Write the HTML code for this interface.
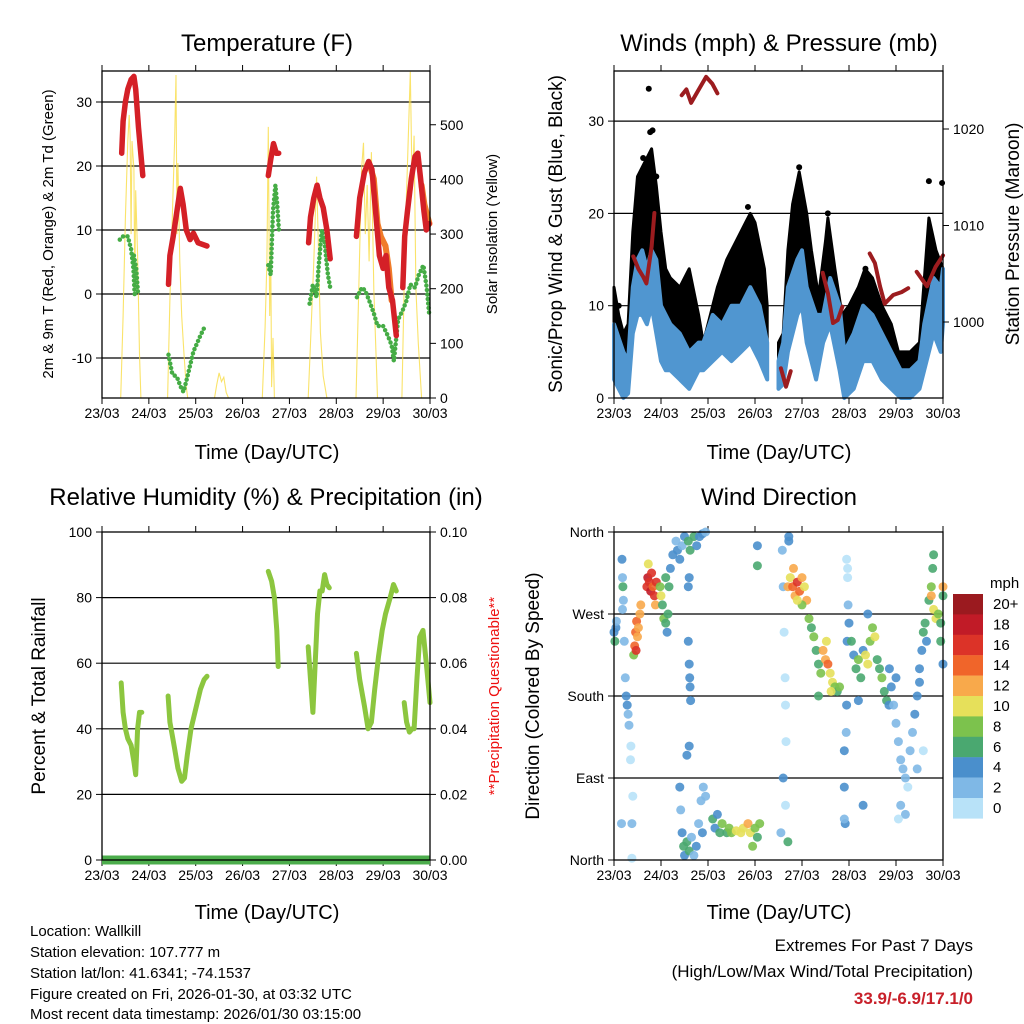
<!DOCTYPE html>
<html><head><meta charset="utf-8">
<style>
html,body{margin:0;padding:0;background:#fff;}
svg{display:block;font-family:"Liberation Sans",sans-serif;}
</style></head>
<body>
<svg id="fig" width="1024" height="1024" viewBox="0 0 1024 1024" xmlns="http://www.w3.org/2000/svg">
<g font-size="24" text-anchor="middle" fill="#000">
<text x="267" y="51">Temperature (F)</text>
<text x="779" y="51">Winds (mph) &amp; Pressure (mb)</text>
<text x="266" y="505">Relative Humidity (%) &amp; Precipitation (in)</text>
<text x="779" y="505">Wind Direction</text>
</g>
<g font-size="20" text-anchor="middle">
<text x="267" y="459">Time (Day/UTC)</text>
<text x="779" y="459">Time (Day/UTC)</text>
<text x="267" y="919">Time (Day/UTC)</text>
<text x="779" y="919">Time (Day/UTC)</text>
<text transform="translate(53,234) rotate(-90)" font-size="15">2m &amp; 9m T (Red, Orange) &amp; 2m Td (Green)</text>
<text transform="translate(497,234) rotate(-90)" font-size="15">Solar Insolation (Yellow)</text>
<text transform="translate(562,234) rotate(-90)" font-size="19">Sonic/Prop Wind &amp; Gust (Blue, Black)</text>
<text transform="translate(1019,234) rotate(-90)" font-size="19">Station Pressure (Maroon)</text>
<text transform="translate(45,696) rotate(-90)" font-size="19">Percent &amp; Total Rainfall</text>
<text transform="translate(499,696) rotate(-90)" font-size="15" fill="#ee1111">**Precipitation Questionable**</text>
<text transform="translate(539,696) rotate(-90)" font-size="19">Direction (Colored By Speed)</text>
</g>
<g font-size="15">
<text x="30" y="936">Location: Wallkill</text>
<text x="30" y="957">Station elevation: 107.777 m</text>
<text x="30" y="978">Station lat/lon: 41.6341; -74.1537</text>
<text x="30" y="999">Figure created on Fri, 2026-01-30, at 03:32 UTC</text>
<text x="30" y="1019">Most recent data timestamp: 2026/01/30 03:15:00</text>
</g>
<g text-anchor="end" font-size="17">
<text x="973" y="951">Extremes For Past 7 Days</text>
<text x="973" y="977">(High/Low/Max Wind/Total Precipitation)</text>
<text x="973" y="1004" fill="#c8202a" font-weight="bold">33.9/-6.9/17.1/0</text>
</g>
<g id="plots"></g>
</svg>
<script>
// ---------- data ----------
const dayLabels = ["23/03","24/03","25/03","26/03","27/03","28/03","29/03","30/03"];
const tempTicks = [-10,0,10,20,30];
const solarTicks = [0,100,200,300,400,500];
const windTicks = [0,10,20,30];
const presTicks = [1000,1010,1020];
const rhTicks = [0,20,40,60,80,100];
const precipTicks = ["0.00","0.02","0.04","0.06","0.08","0.10"];
const dirTicks = ["North","East","South","West","North"];
const speedLabels = ["20+","18","16","14","12","10","8","6","4","2","0"];

const tempRed = [
 [[0.42,22],[0.45,27],[0.5,30],[0.55,32],[0.62,33.5],[0.68,34],[0.72,32],[0.78,26],[0.87,18.5]],
 [[1.42,1.5],[1.45,6],[1.52,9],[1.6,13],[1.67,16.5],[1.73,14],[1.8,10],[1.88,8.5],[1.95,9.5],[2.05,8],[2.24,7.5]],
 [[3.55,18.5],[3.6,21],[3.66,23.5],[3.72,22],[3.77,22]],
 [[4.41,8],[4.45,12],[4.52,15],[4.59,17],[4.65,15],[4.72,13.5],[4.8,10],[4.87,5.5]],
 [[5.43,9],[5.5,15],[5.6,19],[5.69,20.7],[5.76,19.5],[5.85,12],[5.92,6],[6.0,4],[6.06,6],[6.12,1],[6.2,-1],[6.28,-6.5]],
 [[6.42,1],[6.46,9],[6.52,13],[6.6,18],[6.68,21.5],[6.74,22],[6.8,18],[6.87,13],[6.92,10],[6.98,11]]
];
const tempOrange = [
 [[5.72,20],[5.8,18],[5.88,11],[5.95,9],[6.05,7.5],[6.12,4],[6.18,-1]],
 [[6.82,17],[6.88,14],[6.95,12],[6.99,11]]
];
const dewGreen = [
 [[0.38,8.5],[0.45,9],[0.55,9],[0.62,7],[0.67,4],[0.7,-0.5]],
 [[0.68,6],[0.73,4],[0.77,0]],
 [[1.42,-9.5],[1.5,-12.5],[1.6,-13],[1.68,-14.5],[1.74,-15.3],[1.82,-13],[1.95,-9],[2.1,-6.5],[2.2,-5]],
 [[3.55,4.5],[3.6,3],[3.65,13],[3.7,17],[3.74,14],[3.78,9.5]],
 [[4.43,-1.5],[4.5,1.5],[4.58,-0.5],[4.62,4],[4.69,10],[4.75,8],[4.82,3],[4.87,1]],
 [[5.44,-0.5],[5.55,1],[5.62,0.5],[5.7,-1],[5.8,-3],[5.88,-5],[6.0,-5],[6.1,-6.5],[6.18,-8],[6.23,-10.5],[6.32,-4],[6.42,-2.5],[6.5,-1],[6.58,1.5],[6.68,1],[6.76,3],[6.86,4.5],[6.93,1],[6.98,-3]]
];
const solar = [
 [[0.40,0],[0.45,150],[0.5,330],[0.55,470],[0.58,518],[0.6,480],[0.62,300],[0.64,470],[0.68,420],[0.7,200],[0.72,380],[0.76,260],[0.8,80],[0.83,0]],
 [[1.40,0],[1.45,180],[1.5,330],[1.55,470],[1.58,591],[1.6,300],[1.62,430],[1.66,250],[1.7,150],[1.75,80],[1.8,20],[1.83,0]],
 [[2.4,0],[2.45,25],[2.5,46],[2.55,30],[2.6,38],[2.65,10],[2.7,0]],
 [[3.42,0],[3.48,130],[3.52,250],[3.55,496],[3.58,150],[3.6,280],[3.62,20],[3.65,110],[3.68,0]],
 [[4.4,0],[4.45,100],[4.52,250],[4.58,405],[4.62,270],[4.66,120],[4.72,40],[4.8,0]],
 [[5.42,0],[5.48,200],[5.54,420],[5.58,467],[5.62,300],[5.66,390],[5.7,250],[5.75,450],[5.8,200],[5.88,0]],
 [[6.4,0],[6.47,300],[6.52,430],[6.58,597],[6.62,380],[6.66,480],[6.7,200],[6.75,100],[6.82,0]]
];
const gustTimes = [0,0.1,0.2,0.3,0.4,0.5,0.6,0.7,0.8,0.9,1.0,1.1,1.2,1.4,1.6,1.8,1.9,2.0,2.2,2.4,2.6,2.8,2.9,3.0,3.2,3.26];
const gustUpper = [12,9,7,8,18,24,25,26,27,23,18,14,13,12,14,9,6,8,12,15,17,19,20,19,14,10];
const gustTimes2 = [3.5,3.6,3.7,3.8,3.94,4.1,4.2,4.35,4.5,4.55,4.7,4.85,5.0,5.2,5.34,5.5,5.7,5.9,6.05,6.3,6.5,6.62,6.7,6.85,7.0];
const gustUpper2 = [6,7,16,21,24.5,20,16,11,17,19.5,14,9,10,12,14,13,10,8,5,5,6,14,19.5,16,14];
const windTimes = [0,0.2,0.3,0.4,0.5,0.6,0.7,0.8,0.9,1.0,1.1,1.2,1.4,1.6,1.8,1.9,2.1,2.3,2.5,2.7,2.9,3.1,3.26];
const windUpper = [8,5,4,12,15,16,14,16,15,10,9,8,7,5,6,6,9,8,10,10,12,10,6];
const windLower = [2,0,0.5,7,9,9,8,10,7,4,3,3,2,1,3,3,4,5,4,5,6,4,2];
const windTimes2 = [3.5,3.6,3.7,3.9,4.0,4.1,4.3,4.45,4.6,4.8,4.9,5.1,5.3,5.5,5.7,5.9,6.1,6.3,6.5,6.6,6.8,6.95,7.0];
const windUpper2 = [4,6,12,15,16,12,9,9,13,10,5,7,10,9,7,5,3,3,4,8,13,12,14];
const windLower2 = [1,1.5,5,9,10,6,2,6,8,3,0,1,4,4,2,1,0,0,1,3,7,5,8];
const gustOutliers = [[0.74,33.5],[6.7,23.5],[6.98,23.3],[0.77,28.8],[3.94,25],[0.5,22],[0.62,26],[0.9,24],[2.85,20.7],[4.55,20],[0.1,10],[5.35,14],[0.82,29]];
const pressure = [
 [[0.41,1006.8],[0.52,1005.5],[0.62,1004.7],[0.69,1004],[0.8,1007.8],[0.86,1011.3]],
 [[1.44,1023.5],[1.54,1024.1],[1.64,1022.7],[1.78,1023.9],[1.96,1025.4],[2.09,1024.7],[2.2,1023.7]],
 [[3.55,995.2],[3.66,993.3],[3.76,994.9]],
 [[4.44,1005.1],[4.55,1003],[4.66,999.9],[4.76,1000.2],[4.86,1001.6]],
 [[5.44,1007.1],[5.55,1006.1],[5.66,1003.7],[5.76,1001.9],[5.94,1002.8],[6.12,1003.1],[6.26,1003.5]],
 [[6.44,1005.2],[6.66,1003.7],[6.84,1005.7],[7.0,1006.9]]
];
const rh = [
 [[0.41,54],[0.45,45],[0.5,40],[0.55,37],[0.62,35],[0.68,30],[0.72,26],[0.76,40],[0.8,45],[0.85,45]],
 [[1.41,50],[1.45,42],[1.5,38],[1.55,34],[1.62,28],[1.7,24],[1.76,25],[1.82,32],[1.9,40],[2.0,46],[2.1,52],[2.18,55],[2.24,56]],
 [[3.55,88],[3.62,85],[3.68,80],[3.73,70],[3.76,59]],
 [[4.4,65],[4.45,55],[4.5,45],[4.55,60],[4.6,75],[4.65,82],[4.7,82],[4.75,87],[4.8,84],[4.85,83]],
 [[5.43,63],[5.5,55],[5.6,47],[5.68,40],[5.75,42],[5.82,52],[5.9,62],[5.98,70],[6.05,75],[6.15,80],[6.22,84],[6.28,82]],
 [[6.45,48],[6.5,42],[6.56,39],[6.62,40],[6.66,40],[6.72,55],[6.78,68],[6.85,70],[6.92,60],[7.0,48]]
];
const precipTimes = [0,7];
const precipValues = [0,0];
const dirPoints = [
 [0.0,250,4],[0.02,240,6],[0.04,255,4],[0.05,262,2],
 [0.17,330,4],[0.18,310,2],[0.19,300,6],[0.2,285,2],[0.18,275,2],[0.22,240,2],[0.24,200,2],[0.26,180,4],[0.28,170,4],[0.3,160,2],[0.32,148,2],
 [0.35,110,0],[0.38,40,2],[0.4,70,0],[0.36,125,0],[0.16,40,2],[0.38,2,0],
 [0.42,225,8],[0.44,235,14],[0.46,250,14],[0.48,262,14],[0.5,245,12],[0.52,255,12],[0.55,270,12],[0.57,280,12],[0.47,230,16],
 [0.7,300,16],[0.72,310,18],[0.75,305,16],[0.78,295,18],[0.8,315,16],[0.83,300,14],[0.86,290,16],[0.9,305,16],[0.73,325,10],[0.88,280,12],
 [0.98,300,8],[1.0,290,10],[1.03,280,6],[1.06,265,8],[1.1,260,6],[1.13,250,4],[1.17,300,6],[1.2,320,4],[1.25,335,4],[1.1,310,6],[1.15,270,6],
 [1.32,350,2],[1.35,340,4],[1.4,330,4],[1.45,345,2],[1.5,355,4],[1.58,350,6],[1.62,340,6],[1.7,355,6],[1.76,345,4],[1.82,355,4],[1.88,358,4],[1.95,360,2],
 [1.58,240,4],[1.6,215,4],[1.61,200,4],[1.62,190,4],[1.63,175,4],[1.55,115,4],[1.6,125,4],[1.6,310,4],[1.58,300,4],
 [1.4,80,4],[1.42,55,2],[1.45,30,4],[1.48,15,6],[1.5,5,4],[1.55,20,6],[1.6,10,6],[1.65,25,2],[1.7,5,2],[1.75,15,4],[1.8,40,2],[1.85,65,2],[1.9,80,2],[1.95,70,2],[1.88,30,4],
 [2.1,45,6],[2.15,35,4],[2.2,50,4],[2.25,30,6],[2.3,40,8],[2.4,30,6],[2.45,35,8],[2.5,30,8],[2.6,32,10],[2.7,30,10],[2.75,35,10],[2.85,40,12],[2.9,30,10],[3.0,35,8],[3.05,25,6],[2.95,15,8],[3.1,40,8],
 [3.05,345,4],[3.05,323,6],
 [3.58,340,2],[3.6,300,2],[3.62,250,0],[3.64,200,0],[3.65,170,0],[3.66,130,0],[3.6,90,4],[3.65,60,0],[3.55,30,2],[3.7,20,6],[3.72,350,4],[3.72,355,4],
 [3.7,300,12],[3.75,310,10],[3.8,300,14],[3.85,290,12],[3.9,305,16],[3.95,295,14],[4.0,310,12],[4.05,300,10],[4.1,285,12],[4.0,280,8],[3.9,285,10],[3.82,320,12],
 [4.15,265,8],[4.2,255,6],[4.25,245,8],[4.3,230,6],[4.35,215,6],[4.4,205,8],[4.45,230,12],[4.5,220,12],[4.55,215,14],[4.6,205,10],[4.65,195,10],[4.7,190,8],[4.75,185,6],[4.8,190,8],[4.52,240,10],[4.62,185,10],[4.35,180,6],
 [4.95,330,0],[4.97,310,0],[4.98,280,2],[4.96,240,4],[4.95,170,4],[4.94,140,2],[4.9,120,4],[4.9,80,4],[4.92,40,4],[4.9,45,2],[4.97,320,0],
 [5.0,260,4],[5.05,240,6],[5.1,225,4],[5.15,210,6],[5.2,220,8],[5.25,200,6],[5.3,230,4],[5.35,225,10],[5.4,215,10],[5.45,240,8],[5.5,255,8],[5.55,245,10],[5.6,220,6],[5.65,210,6],[5.7,200,8],[5.75,185,6],[5.8,175,6],[5.85,170,4],[5.4,270,4],[5.3,60,4],[5.2,175,4],
 [5.86,210,4],[5.9,190,4],[5.95,170,2],[6.0,150,2],[6.05,130,2],[6.1,110,2],[6.15,100,2],[6.2,90,2],[6.25,80,0],[6.3,120,2],[6.35,140,2],[6.4,160,4],[6.0,200,4],[6.1,60,2],[6.2,50,2],[6.05,45,0],[6.45,180,4],[6.5,195,4],[6.45,100,2],[6.58,120,0],
 [6.5,210,4],[6.55,230,4],[6.58,250,6],[6.62,260,6],[6.65,240,4],[6.7,285,6],[6.75,300,8],[6.78,320,6],[6.8,335,6],[6.75,290,12],[6.8,275,10],[6.85,265,10],[6.9,270,8],[6.95,260,6],[7.0,290,6],[7.0,300,12],[6.95,240,6],[7.0,215,4]
];
const speedColors = ["#9b1a1f","#c11b27","#dc3328","#f0652a","#f8a94b","#e6e05a","#7cc24d","#4aa870","#4a8fcc","#7fb8e6","#b8e2f8"];

// ---------- helpers ----------
const NS = "http://www.w3.org/2000/svg";
const root = document.getElementById('plots');
function mk(tag, attrs, parent){
  const e = document.createElementNS(NS, tag);
  for (const k in attrs) e.setAttribute(k, attrs[k]);
  (parent||root).appendChild(e);
  return e;
}
function panel(x0,x1,y0,y1){ return {x0,x1,y0,y1, x:t=>x0+(x1-x0)*t/7}; }
const P1 = panel(102,430,71,398), P2 = panel(614,943,71,398), P3 = panel(102,430,532,860), P4 = panel(614,943,532,860);
const yTemp = v=>294-6.4*v, ySolar = v=>398-0.5465*v;
const yWind = v=>398-9.23*v, yPres = v=>322-9.65*(v-1000);
const yRH = v=>860-3.28*v, yPrecip = v=>860-3280*v;
const yDir = v=>860-v*328/360;

function linePath(P, pts, yf){ return pts.map((p,i)=>(i?'L':'M')+P.x(p[0]).toFixed(1)+' '+yf(p[1]).toFixed(1)).join(''); }
function interp(ts, vs, t){
  if (t<=ts[0]) return vs[0];
  for (let i=1;i<ts.length;i++){ if (t<=ts[i]){ const f=(t-ts[i-1])/(ts[i]-ts[i-1]); return vs[i-1]+f*(vs[i]-vs[i-1]); } }
  return vs[vs.length-1];
}

function frame(P, name, grids, yf){
  const g = mk('g',{});
  
  
  grids.forEach(v=>{
    const l = mk('line',{x1:P.x0,x2:P.x1,y1:yf(v),y2:yf(v),stroke:'#000','stroke-width':1.2},g);
    
    
  });
  dayLabels.forEach((d,i)=>{
    const x = P.x(i);
    mk('line',{x1:x,x2:x,y1:P.y1,y2:P.y1+6,stroke:'#000','stroke-width':1},g);
    mk('line',{x1:x,x2:x,y1:P.y0,y2:P.y0-6,stroke:'#000','stroke-width':1},g);
    const t = mk('text',{x:x,y:P.y1+20,'font-size':14,'text-anchor':'middle'},g);
    t.textContent = d;
    
    
  });
  return g;
}
function border(P,name){
  const r = mk('rect',{x:P.x0,y:P.y0,width:P.x1-P.x0,height:P.y1-P.y0,fill:'none',stroke:'#000','stroke-width':1.3});
  
  
}
function yTicks(P, vals, labels, yf, side, name){
  vals.forEach((v,i)=>{
    const y = yf(v);
    const x = side==='left'?P.x0:P.x1;
    const d = side==='left'?-6:6;
    mk('line',{x1:x,x2:x+d,y1:y,y2:y,stroke:'#000','stroke-width':1});
    const t = mk('text',{x:x+(side==='left'?-10:10),y:y+5,'font-size':14,'text-anchor':side==='left'?'end':'start'});
    t.textContent = labels[i];
    
    
  });
}

// ---------- Panel 1: temperature ----------
frame(P1,'temperature',tempTicks,yTemp);
solar.forEach(s=>{
  const p = mk('path',{d:linePath(P1,s,ySolar),fill:'none',stroke:'#f9dc45','stroke-width':1.1,opacity:0.8});
  
  
});
dewGreen.forEach(s=>{
  const p = mk('path',{d:linePath(P1,s,yTemp),fill:'none',stroke:'#45ac45','stroke-width':4.5,'stroke-linecap':'round','stroke-dasharray':'0 4.5'});
  
  
});
tempOrange.forEach(s=>{
  const p = mk('path',{d:linePath(P1,s,yTemp),fill:'none',stroke:'#f07c2a','stroke-width':6,'stroke-linecap':'round','stroke-linejoin':'round'});
  
  
});
tempRed.forEach(s=>{
  const p = mk('path',{d:linePath(P1,s,yTemp),fill:'none',stroke:'#d42027','stroke-width':5.5,'stroke-linecap':'round','stroke-linejoin':'round'});
  
  
});
border(P1,'temperature');
yTicks(P1,tempTicks,tempTicks.map(String),yTemp,'left','temp-y');
yTicks(P1,solarTicks,solarTicks.map(String),ySolar,'right','solar-y');

// ---------- Panel 2: winds ----------
frame(P2,'winds',[10,20,30],yWind);
function band(P, ts, lo, hi, yf, color, name, sw){
  let d = ts.map((t,i)=>(i?'L':'M')+P.x(t).toFixed(1)+' '+yf(hi[i]).toFixed(1)).join('');
  for (let i=ts.length-1;i>=0;i--) d += 'L'+P.x(ts[i]).toFixed(1)+' '+yf(lo[i]).toFixed(1);
  const p = mk('path',{d:d+'Z',fill:color,stroke:color,'stroke-width':sw,'stroke-linejoin':'round'});
  
  
}
band(P2,gustTimes,gustTimes.map(t=>interp(windTimes,windUpper,t)-1),gustUpper,yWind,'#000','gust-band',3);
band(P2,gustTimes2,gustTimes2.map(t=>interp(windTimes2,windUpper2,t)-1),gustUpper2,yWind,'#000','gust-band',3);
gustOutliers.forEach(p=>{
  const c = mk('circle',{cx:P2.x(p[0]),cy:yWind(p[1]),r:3,fill:'#000'});
  
  
});
band(P2,windTimes,windLower,windUpper,yWind,'#5096d0','wind-speed-band',4);
band(P2,windTimes2,windLower2,windUpper2,yWind,'#5096d0','wind-speed-band',4);
pressure.forEach(s=>{
  const p = mk('path',{d:linePath(P2,s,yPres),fill:'none',stroke:'#9c1c1f','stroke-width':4,'stroke-linecap':'round','stroke-linejoin':'round'});
  
  
});
border(P2,'winds');
yTicks(P2,windTicks,windTicks.map(String),yWind,'left','wind-y');
yTicks(P2,presTicks,presTicks.map(String),yPres,'right','pressure-y');

// ---------- Panel 3: RH ----------
frame(P3,'humidity',[20,40,60,80],yRH);
rh.forEach(s=>{
  const p = mk('path',{d:linePath(P3,s,yRH),fill:'none',stroke:'#8cc63f','stroke-width':5,'stroke-linecap':'round','stroke-linejoin':'round'});
  
  
});
{
  const pts = precipTimes.map((t,i)=>[t,precipValues[i]]);
  const p = mk('path',{d:linePath(P3,pts,yPrecip),fill:'none',stroke:'#4cad4c','stroke-width':9});
  
  
}
border(P3,'humidity');
yTicks(P3,rhTicks,rhTicks.map(String),yRH,'left','rh-y');
yTicks(P3,precipTicks.map(Number),precipTicks,yPrecip,'right','precip-y');

// ---------- Panel 4: wind direction ----------
frame(P4,'direction',[90,180,270],yDir);
function spdColor(s){ const idx = 10 - Math.min(10, Math.floor(s/2)); return speedColors[idx]; }
dirPoints.forEach(p=>{
  const c = mk('circle',{cx:P4.x(p[0]).toFixed(1),cy:yDir(p[1]).toFixed(1),r:4.5,fill:spdColor(p[2]),opacity:0.9});
  
  
});
border(P4,'direction');
yTicks(P4,[0,90,180,270,360],dirTicks,yDir,'left','dir-y');

// colorbar
{
  const g = mk('g',{});
  
  
  const t0 = mk('text',{x:990,y:588,'font-size':15},g); t0.textContent='mph';
  speedColors.forEach((c,i)=>{
    const y = 594 + i*20.4;
    const r = mk('rect',{x:953,y:y,width:30,height:20.6,fill:c},g);
    
    
    const t = mk('text',{x:993,y:y+15,'font-size':15},g);
    t.textContent = speedLabels[i];
    
    
  });
}
</script>
</body></html>
